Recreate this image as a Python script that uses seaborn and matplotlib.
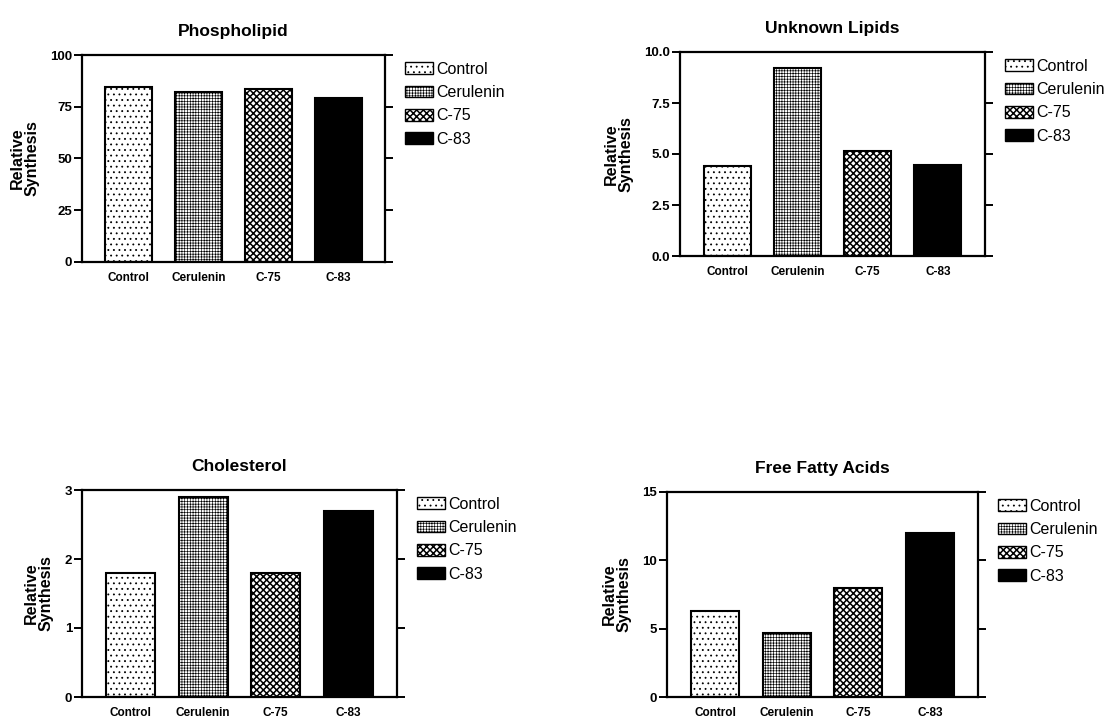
import matplotlib
matplotlib.use("Agg")
import matplotlib.pyplot as plt
from matplotlib.patches import Patch
from matplotlib.ticker import FormatStrFormatter
import seaborn as sns
import pandas as pd

# ---- data ----
treatments = ["Control", "Cerulenin", "C-75", "C-83"]
titles = ["Phospholipid", "Unknown Lipids", "Cholesterol", "Free Fatty Acids"]
phospholipid = [84.5, 82.0, 83.5, 79.0]
unknown_lipids = [4.4, 9.2, 5.15, 4.45]
cholesterol = [1.8, 2.9, 1.8, 2.7]
free_fatty_acids = [6.3, 4.7, 8.0, 12.0]
y_ticks = [[0, 25, 50, 75, 100], [0.0, 2.5, 5.0, 7.5, 10.0], [0, 1, 2, 3], [0, 5, 10, 15]]
y_label = "Relative\nSynthesis"

# ---- style ----
sns.set_theme(style="white")
plt.rcParams["font.family"] = ["Liberation Sans", "DejaVu Sans"]
plt.rcParams["text.color"] = "black"
plt.rcParams["axes.labelcolor"] = "black"
plt.rcParams["xtick.color"] = "black"
plt.rcParams["ytick.color"] = "black"
plt.rcParams["hatch.color"] = "black"

face_colors = {"Control": "white", "Cerulenin": "white", "C-75": "white", "C-83": "black"}
hatches = ["...", "++++++", "xxxxx", ""]
hatch_lw = [0.6, 0.45, 1.1, 0.6]


def set_hlw(p, lw):
    if hasattr(p, "set_hatch_linewidth"):
        p.set_hatch_linewidth(lw)
    else:
        p._hatch_linewidth = lw


W, H = 1107, 717
fig = plt.figure(figsize=(W / 100, H / 100), dpi=100)

# axes boxes in pixels: left, top, right, bottom
boxes = [(82, 55, 385, 262), (680, 52, 985, 256), (82, 490, 397, 697), (667, 492, 978, 697)]
series = [phospholipid, unknown_lipids, cholesterol, free_fatty_acids]

for i, (box, vals, title, ticks) in enumerate(zip(boxes, series, titles, y_ticks)):
    l, t, r, b = box
    ax = fig.add_axes([l / W, 1 - b / H, (r - l) / W, (b - t) / H])
    df = pd.DataFrame({"treatment": treatments, "value": vals})
    sns.barplot(data=df, x="treatment", y="value", hue="treatment",
                palette=face_colors, order=treatments, hue_order=treatments,
                width=0.67, edgecolor="black", linewidth=1.5, saturation=1,
                legend=False, ax=ax)
    for p, h, lw in zip(ax.patches, hatches, hatch_lw):
        p.set_hatch(h)
        set_hlw(p, lw)
    ax.set_xlim(-0.67, 3.67)
    ax.set_ylim(ticks[0], ticks[-1])
    ax.set_yticks(ticks)
    if i == 1:
        ax.yaxis.set_major_formatter(FormatStrFormatter("%.1f"))
    for s in ax.spines.values():
        s.set_visible(True)
        s.set_color("black")
        s.set_linewidth(1.6)
    ax.tick_params(axis="y", left=True, right=True, labelright=False,
                   direction="out", length=6, width=1.4, labelsize=9.5, pad=1)
    ax.tick_params(axis="x", bottom=False, labelsize=8.5, pad=1)
    for lab in ax.get_xticklabels() + ax.get_yticklabels():
        lab.set_fontweight("bold")
    ax.set_xlabel("")
    ax.set_ylabel(y_label, fontsize=11.5, fontweight="bold", linespacing=0.95, labelpad=8)
    ax.set_title(title, fontsize=12.5, fontweight="bold", pad=14)

    handles = []
    for tr, h, lw in zip(treatments, hatches, hatch_lw):
        hp = Patch(facecolor=face_colors[tr], edgecolor="black", hatch=h, linewidth=1.0, label=tr)
        set_hlw(hp, lw)
        handles.append(hp)
    leg = ax.legend(handles=handles, loc="upper left", bbox_to_anchor=(1.06, 0.975),
                    frameon=False, fontsize=11.5, handlelength=1.75, handleheight=0.75,
                    handletextpad=0.2, labelspacing=0.52, borderpad=0.1, borderaxespad=0)
    for hp, lw in zip(leg.get_patches(), hatch_lw):
        set_hlw(hp, lw)

fig.savefig("out.png", dpi=100, facecolor="white")
